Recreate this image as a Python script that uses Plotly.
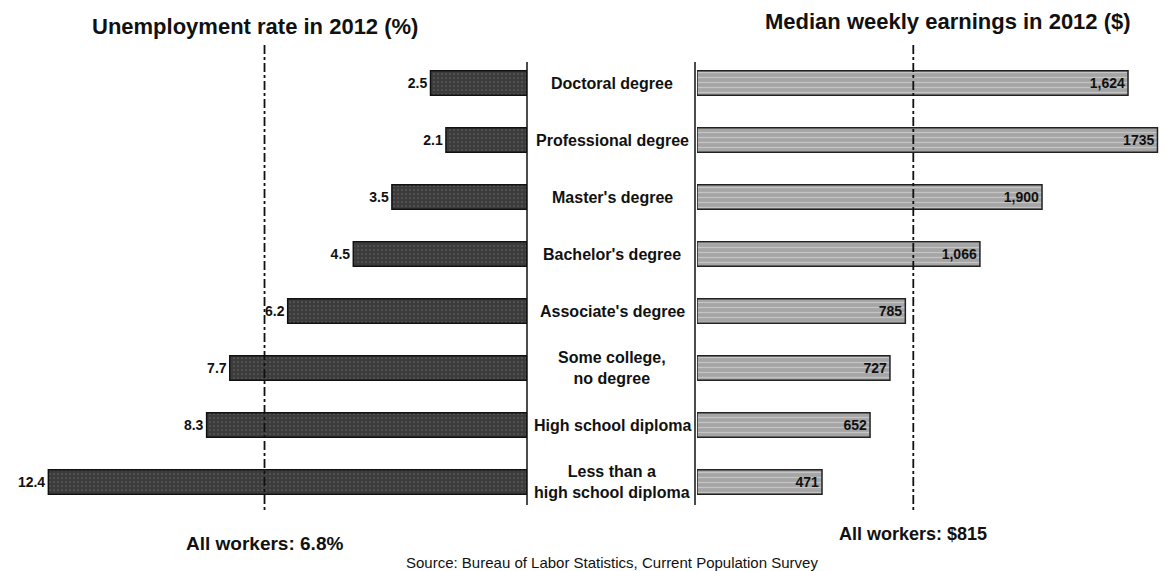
import plotly.graph_objects as go

categories = ["Doctoral degree", "Professional degree", "Master's degree", "Bachelor's degree",
              "Associate's degree", "Some college,<br>no degree", "High school diploma",
              "Less than a<br>high school diploma"]
unemployment = [2.5, 2.1, 3.5, 4.5, 6.2, 7.7, 8.3, 12.4]
earnings = [1624, 1735, 1300, 1066, 785, 727, 652, 471]
unemp_labels = ["2.5", "2.1", "3.5", "4.5", "6.2", "7.7", "8.3", "12.4"]
earn_labels = ["1,624", "1735", "1,900", "1,066", "785", "727", "652", "471"]
all_unemp = 6.8
all_earn = 815

FONT = "Liberation Sans, Arial"
W, H = 1166, 571

fig = go.Figure()

fig.add_trace(go.Bar(
    x=unemployment, y=categories, orientation="h", xaxis="x", yaxis="y",
    marker=dict(color="#3c3c3c", line=dict(color="#111", width=1.5),
                pattern=dict(shape=".", fgcolor="#8a8a8a", size=4, solidity=0.15)),
    width=0.43, text=[f"<b>{t}</b>" for t in unemp_labels], textposition="outside",
    textfont=dict(family=FONT, size=14, color="#111"), cliponaxis=False,
    showlegend=False, hoverinfo="skip"))

fig.add_trace(go.Bar(
    x=earnings, y=categories, orientation="h", xaxis="x2", yaxis="y2",
    marker=dict(color="#a5a5a5", line=dict(color="#222", width=1.5),
                pattern=dict(shape="-", fgcolor="#e6e6e6", size=5, solidity=0.25)),
    width=0.43, text=[f"<b>{t}</b>" for t in earn_labels], textposition="inside",
    insidetextanchor="end",
    textfont=dict(family=FONT, size=14, color="#111"), cliponaxis=False,
    showlegend=False, hoverinfo="skip"))

x_left_end = 527
x_right_start = 697
y_top_val = -83 / 57
y_bot_val = (H - 83) / 57

fig.update_layout(
    width=W, height=H, margin=dict(l=0, r=0, t=0, b=0),
    paper_bgcolor="white", plot_bgcolor="white", bargap=0.5,
    uniformtext=dict(minsize=10, mode="show"),
    xaxis=dict(domain=[0, x_left_end / W], range=[x_left_end / 38.6, 0],
               visible=False, fixedrange=True),
    yaxis=dict(domain=[0, 1], range=[y_bot_val, y_top_val], visible=False,
               categoryorder="array", categoryarray=categories),
    xaxis2=dict(domain=[x_right_start / W, 1], range=[0, (W - x_right_start) / 0.2654],
                visible=False, anchor="y2"),
    yaxis2=dict(domain=[0, 1], range=[y_bot_val, y_top_val], visible=False,
                anchor="x2", categoryorder="array", categoryarray=categories),
)

# baseline lines
for xp in (x_left_end, x_right_start - 2):
    fig.add_shape(type="line", xref="paper", yref="paper",
                  x0=xp / W, x1=xp / W, y0=1 - 62 / H, y1=1 - 505 / H,
                  line=dict(color="#111", width=1.5))

# all-workers reference lines
fig.add_shape(type="line", xref="x", yref="paper", x0=all_unemp, x1=all_unemp,
              y0=1 - 45 / H, y1=1 - 512 / H, line=dict(color="#111", width=1.8, dash="dashdot"))
fig.add_shape(type="line", xref="x2", yref="paper", x0=all_earn, x1=all_earn,
              y0=1 - 45 / H, y1=1 - 512 / H, line=dict(color="#111", width=1.8, dash="dashdot"))

# category labels in the middle
mid = (x_left_end + x_right_start) / 2 / W
for cat in categories:
    fig.add_annotation(x=mid, xref="paper", y=cat, yref="y", text=f"<b>{cat}</b>",
                       showarrow=False, font=dict(family=FONT, size=16, color="#111"),
                       align="center", xanchor="center", yanchor="middle")

# titles
fig.add_annotation(x=255 / W, y=1 - 27 / H, xref="paper", yref="paper",
                   text="<b>Unemployment rate in 2012 (%)</b>", showarrow=False,
                   font=dict(family=FONT, size=22, color="#111"), xanchor="center", yanchor="middle")
fig.add_annotation(x=948 / W, y=1 - 22 / H, xref="paper", yref="paper",
                   text="<b>Median weekly earnings in 2012 ($)</b>", showarrow=False,
                   font=dict(family=FONT, size=22, color="#111"), xanchor="center", yanchor="middle")

# all-workers notes
fig.add_annotation(x=all_unemp, xref="x", y=1 - 543 / H, yref="paper",
                   text="<b>All workers: 6.8%</b>", showarrow=False,
                   font=dict(family=FONT, size=19, color="#111"), xanchor="center", yanchor="middle")
fig.add_annotation(x=all_earn, xref="x2", y=1 - 534 / H, yref="paper",
                   text="<b>All workers: $815</b>", showarrow=False,
                   font=dict(family=FONT, size=18, color="#111"), xanchor="center", yanchor="middle")

fig.add_annotation(x=612 / W, y=1 - 562 / H, xref="paper", yref="paper",
                   text="Source: Bureau of Labor Statistics, Current Population Survey",
                   showarrow=False, font=dict(family=FONT, size=15, color="#111"),
                   xanchor="center", yanchor="middle")

fig.write_html("out.html", config={"displayModeBar": False},
               post_script="document.body.style.margin='0';document.body.style.overflow='hidden';")
